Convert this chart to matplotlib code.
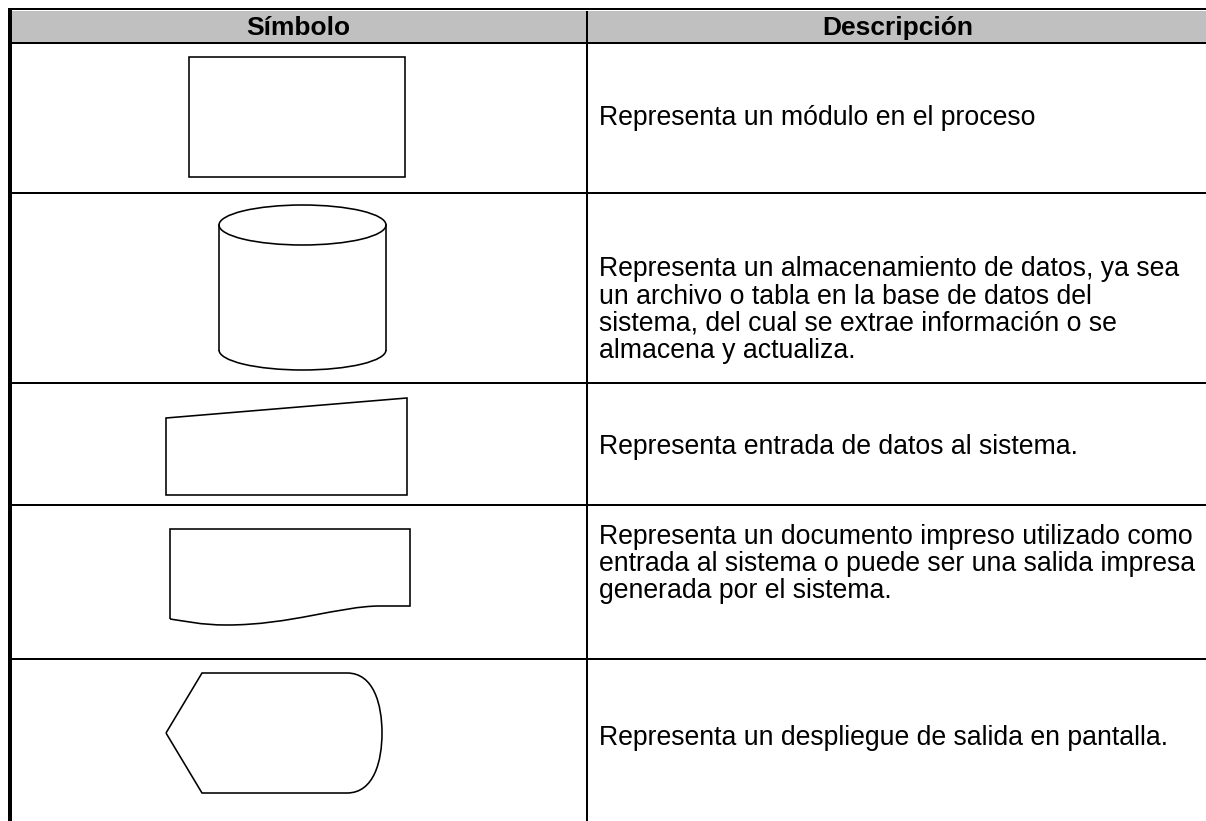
import matplotlib.pyplot as plt
from matplotlib.patches import Rectangle, Polygon, Ellipse, PathPatch, Arc
from matplotlib.path import Path

plt.rcParams['font.family'] = ['Liberation Sans', 'DejaVu Sans']

W, H = 1206, 821

# table content
headers = ["Símbolo", "Descripción"]
descriptions = [
    "Representa un módulo en el proceso",
    "Representa un almacenamiento de datos, ya sea\nun archivo o tabla en la base de datos del\nsistema, del cual se extrae información o se\nalmacena y actualiza.",
    "Representa entrada de datos al sistema.",
    "Representa un documento impreso utilizado como\nentrada al sistema o puede ser una salida impresa\ngenerada por el sistema.",
    "Representa un despliegue de salida en pantalla.",
]
# row borders (pixels from top) and text centre per row
row_lines = [43, 193, 383, 505, 659]
text_y = [118, 310, 447, 564, 738]

fig = plt.figure(figsize=(W / 100, H / 100), dpi=100)
ax = fig.add_axes([0, 0, 1, 1])
ax.set_xlim(0, W)
ax.set_ylim(H, 0)
ax.axis('off')

lw_px = 1 / 1.389  # points per pixel

# header band
ax.add_patch(Rectangle((12, 11), W - 12, 32, facecolor='#c0c0c0', edgecolor='none'))
ax.plot([8, W], [9, 9], color='black', lw=2 * lw_px, solid_capstyle='butt')
ax.plot([10, 10], [8, H], color='black', lw=4 * lw_px, solid_capstyle='butt')
ax.plot([587, 587], [11, H], color='black', lw=2 * lw_px, solid_capstyle='butt')
for y in row_lines:
    ax.plot([12, W], [y, y], color='black', lw=2 * lw_px, solid_capstyle='butt')

ax.text(298, 28, headers[0], ha='center', va='center', fontsize=19, fontweight='bold')
ax.text(898, 28, headers[1], ha='center', va='center', fontsize=19, fontweight='bold')

for desc, y in zip(descriptions, text_y):
    ax.text(599, y, desc, ha='left', va='center', fontsize=19.2, linespacing=1.05)

slw = 1.6 * lw_px

# process rectangle
ax.add_patch(Rectangle((189, 57), 216, 120, fill=False, edgecolor='black', lw=slw))

# cylinder
cx, cw = 302.5, 167
ax.add_patch(Ellipse((cx, 225), cw, 40, fill=False, edgecolor='black', lw=slw))
ax.plot([cx - cw / 2, cx - cw / 2], [225, 350], color='black', lw=slw)
ax.plot([cx + cw / 2, cx + cw / 2], [225, 350], color='black', lw=slw)
ax.add_patch(Arc((cx, 350), cw, 40, theta1=0, theta2=180, edgecolor='black', lw=slw))

# manual input
ax.add_patch(Polygon([(166, 418), (407, 398), (407, 495), (166, 495)], closed=True,
                     fill=False, edgecolor='black', lw=slw))

# document
doc = Path([(170, 619), (170, 529), (410, 529), (410, 606), (380, 606),
            (340, 606), (290, 625), (227, 625),
            (200, 625), (185, 621), (170, 619)],
           [Path.MOVETO, Path.LINETO, Path.LINETO, Path.LINETO, Path.LINETO,
            Path.CURVE4, Path.CURVE4, Path.CURVE4,
            Path.CURVE4, Path.CURVE4, Path.CURVE4])
ax.add_patch(PathPatch(doc, fill=False, edgecolor='black', lw=slw))

# display
disp = Path([(166, 733), (202, 673), (347, 673),
             (374, 673), (382, 705), (382, 733),
             (382, 761), (374, 793), (347, 793),
             (202, 793), (166, 733)],
            [Path.MOVETO, Path.LINETO, Path.LINETO,
             Path.CURVE4, Path.CURVE4, Path.CURVE4,
             Path.CURVE4, Path.CURVE4, Path.CURVE4,
             Path.LINETO, Path.LINETO])
ax.add_patch(PathPatch(disp, fill=False, edgecolor='black', lw=slw))

fig.savefig('out.png', dpi=100)
